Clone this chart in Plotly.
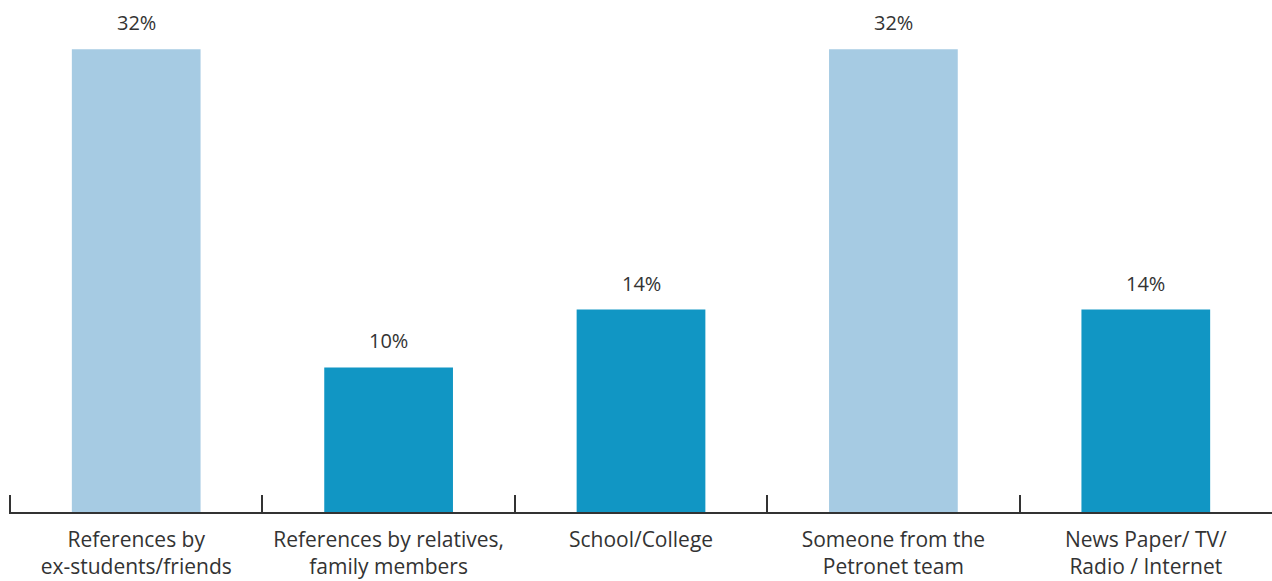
import plotly.graph_objects as go

categories = ["References by<br>ex-students/friends", "References by relatives,<br>family members",
              "School/College", "Someone from the<br>Petronet team", "News Paper/ TV/<br>Radio / Internet"]
values = [32, 10, 14, 32, 14]
labels = ["32%", "10%", "14%", "32%", "14%"]
colors = ["#A6CBE3", "#1196C4", "#1196C4", "#A6CBE3", "#1196C4"]

FONT = "Open Sans, sans-serif"

fig = go.Figure(go.Bar(x=categories, y=values, marker_color=colors, marker_line_width=0,
                       hoverinfo="skip"))
for c, v, t in zip(categories, values, labels):
    fig.add_annotation(x=c, y=v, text=t, showarrow=False, yanchor="bottom", yshift=11,
                       font=dict(family=FONT, size=20, color="#333333"))

fig.update_layout(
    width=1272, height=581, margin=dict(l=9, r=0, t=6, b=69),
    plot_bgcolor="white", paper_bgcolor="white", bargap=0.49, showlegend=False,
    font=dict(family=FONT, size=21, color="#333333"),
)
fig.update_xaxes(showline=True, linecolor="#333333", linewidth=1.5, ticks="inside",
                 tickson="boundaries", ticklen=17, tickwidth=1.5, tickcolor="#333333",
                 ticklabelstandoff=8, showgrid=False, zeroline=False,
                 range=[-0.504, 4.5])
fig.update_yaxes(range=[0, 35], visible=False, showgrid=False, zeroline=False)
fig.write_html("out.html")
